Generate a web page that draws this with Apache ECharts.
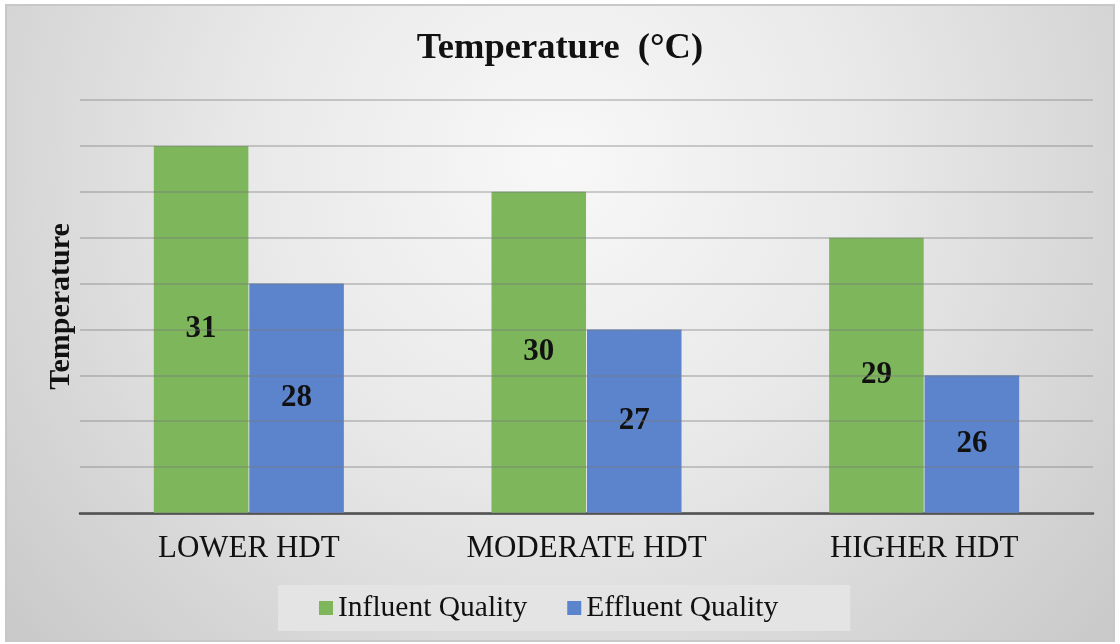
<!DOCTYPE html>
<html>
<head>
<meta charset="utf-8">
<script src="https://cdn.jsdelivr.net/npm/echarts@6/dist/echarts.min.js"></script>
<style>
html,body{margin:0;padding:0;background:#fff;}
#c{width:1120px;height:644px;}
</style>
</head>
<body>
<div id="c"></div>
<script>
const categories = ['LOWER HDT', 'MODERATE HDT', 'HIGHER HDT'];
const influent = [31, 30, 29];
const effluent = [28, 27, 26];
const seriesNames = ['Influent Quality', 'Effluent Quality'];
const titleText = 'Temperature  (°C)';
const yName = 'Temperature';

const font = '"Liberation Serif", "Times New Roman", serif';
const chart = echarts.init(document.getElementById('c'));
const labelCfg = {show: true, position: 'inside', fontFamily: font, fontSize: 31, fontWeight: 'bold', color: '#111'};
chart.setOption({
  animation: false,
  graphic: [{
    type: 'rect', z: -100, silent: true,
    shape: {x: 6, y: 5, width: 1108, height: 636},
    style: {
      fill: {type: 'radial', x: 0.5, y: 0.25, r: 1.2,
        colorStops: [{offset: 0, color: '#f8f8f8'}, {offset: 0.4, color: '#e9e9e9'}, {offset: 1, color: '#c6c6c6'}]},
      stroke: '#c8c8c8', lineWidth: 2
    }
  }],
  title: {
    text: titleText, left: 'center', top: 25,
    textStyle: {fontFamily: font, fontSize: 36.5, fontWeight: 'bold', color: '#111'}
  },
  legend: {
    data: seriesNames, left: 278, bottom: 13,
    backgroundColor: '#e4e4e4', padding: [8, 72, 8, 41],
    itemWidth: 14, itemHeight: 14, itemGap: 40,
    icon: 'rect',
    textStyle: {fontFamily: font, fontSize: 29.5, color: '#111'}
  },
  grid: {left: 80, right: 27, top: 100, bottom: 131},
  xAxis: {
    type: 'category', data: categories,
    axisLine: {lineStyle: {color: '#404040', width: 2.5}},
    axisTick: {show: false},
    axisLabel: {fontFamily: font, fontSize: 31, color: '#111', margin: 20}
  },
  yAxis: {
    type: 'value', min: 23, max: 32, interval: 1, z: 5,
    name: yName, nameLocation: 'middle', nameGap: 4, nameRotate: 90,
    nameTextStyle: {fontFamily: font, fontSize: 30, fontWeight: 'bold', color: '#111'},
    axisLine: {show: false}, axisTick: {show: false}, axisLabel: {show: false},
    splitLine: {lineStyle: {color: 'rgba(120,120,120,0.35)', width: 2}}
  },
  series: [
    {name: seriesNames[0], type: 'bar', data: influent, barWidth: '28%', barGap: '1%',
      itemStyle: {color: '#7db65b'}, label: labelCfg},
    {name: seriesNames[1], type: 'bar', data: effluent, barWidth: '28%',
      itemStyle: {color: '#5b84cc'}, label: labelCfg}
  ]
});
</script>
</body>
</html>
